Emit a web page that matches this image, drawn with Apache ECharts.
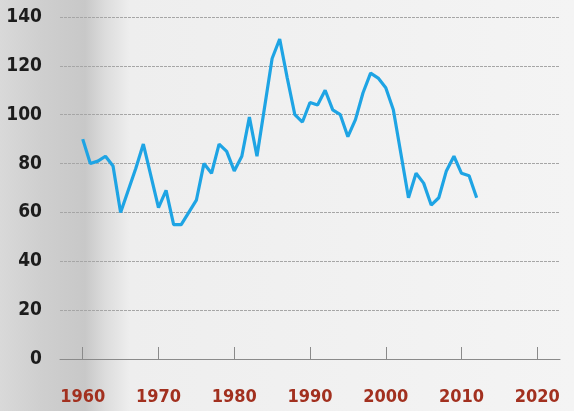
<!DOCTYPE html>
<html>
<head>
<meta charset="utf-8">
<script src="https://cdn.jsdelivr.net/npm/echarts@6/dist/echarts.min.js"></script>
<style>
  html, body { margin: 0; padding: 0; }
  body {
    width: 574px; height: 411px;
    background: linear-gradient(to right, #d9d9d9 0px, #cfcfcf 40px, #c8c8c8 85px, #dcdcdc 105px, #eeeeee 130px, #f4f4f4 574px);
  }
  #chart { width: 574px; height: 411px; }
</style>
</head>
<body>
<div id="chart"></div>
<script>
// yearly values
const years = []
for (let y = 1960; y <= 2012; y++) years.push(y)
const values = [
  90, 80, 81, 83, 79, 60, 69, 78, 88, 75,   // 1960s
  62, 69, 55, 55, 60, 65, 80, 76, 88, 85,   // 1970s
  77, 83, 99, 83, 103, 123, 131, 115, 100, 97, // 1980s
  105, 104, 110, 102, 100, 91, 98, 109, 117, 115, // 1990s
  111, 102, 84, 66, 76, 72, 63, 66, 77, 83, // 2000s
  76, 75, 66
]
const xTicks = [1960, 1970, 1980, 1990, 2000, 2010, 2020]

const labelFont = "'Liberation Sans Narrow', 'DejaVu Sans Condensed', sans-serif"

const chart = echarts.init(document.getElementById('chart'), null, { renderer: 'canvas' })

chart.setOption({
  backgroundColor: 'transparent',
  animation: false,
  grid: { left: 60, right: 14, top: 17, bottom: 52 },
  xAxis: {
    type: 'value',
    min: 1957,
    max: 2023,
    axisLine: { show: true, lineStyle: { color: '#8a8a8a', width: 1 } },
    axisTick: {
      show: true,
      inside: true,
      length: 12,
      customValues: xTicks,
      lineStyle: { color: '#8a8a8a', width: 1 }
    },
    axisLabel: {
      customValues: xTicks,
      margin: 29,
      color: '#a2301f',
      fontSize: 18,
      fontWeight: 'bold',
      fontFamily: labelFont,
      formatter: v => String(v)
    },
    splitLine: { show: false }
  },
  yAxis: {
    type: 'value',
    min: 0,
    max: 140,
    interval: 20,
    axisLine: { show: false },
    axisTick: { show: false },
    axisLabel: {
      margin: 18,
      color: '#1c1c1c',
      fontSize: 19,
      fontWeight: 'bold',
      fontFamily: labelFont
    },
    splitLine: {
      show: true,
      lineStyle: { color: '#a6a6a6', width: 1.2, type: [3, 1] }
    }
  },
  series: [{
    type: 'line',
    data: years.map((y, i) => [y, values[i]]),
    showSymbol: false,
    lineStyle: { color: '#1ea4e4', width: 3.2 },
    z: 5
  }]
})
</script>
</body>
</html>
